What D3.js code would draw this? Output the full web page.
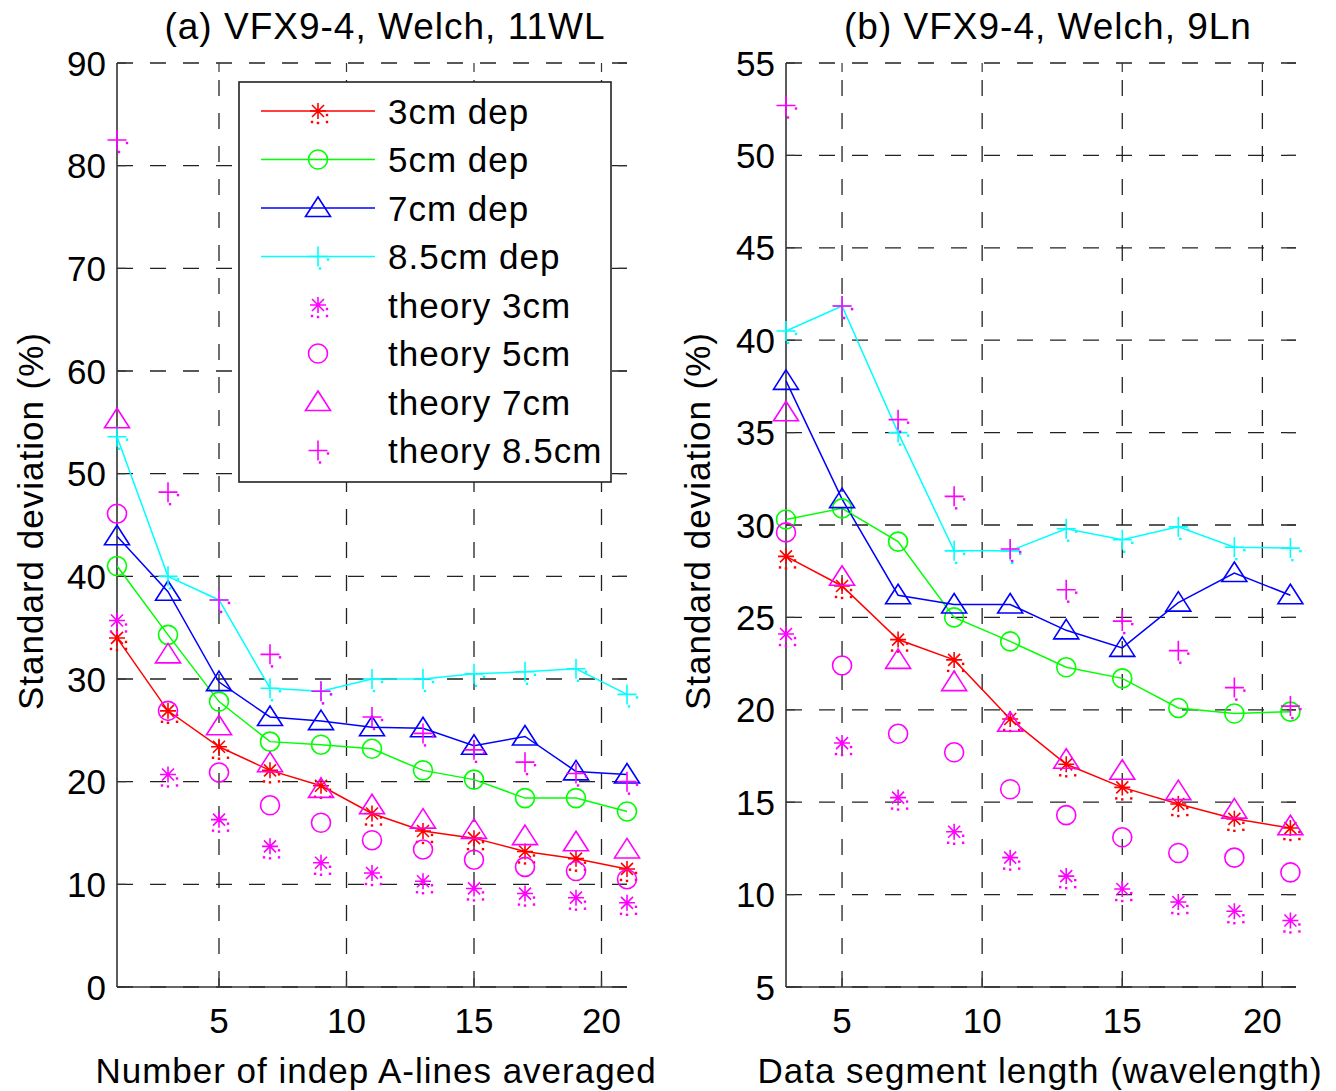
<!DOCTYPE html>
<html>
<head>
<meta charset="utf-8">
<script src="https://d3js.org/d3.v7.min.js"></script>
<style>
  body { margin: 0; background: #fff; }
  svg text { font-family: "Liberation Sans", Arial, sans-serif; fill: #000; }
  .grid line { stroke: #222; stroke-width: 1.3; stroke-dasharray: 16,17; }
  .axisline { stroke: #333; stroke-width: 1.6; }
  .tick { stroke: #333; stroke-width: 1.2; }
</style>
</head>
<body>
<svg id="chart" width="1336" height="1091"></svg>
<script>
// ---- data ----
const xA = [1, 3, 5, 7, 9, 11, 13, 15, 17, 19, 21];
const xB = [3, 5, 7, 9, 11, 13, 15, 17, 19, 21];

// (a) number of A-lines averaged
const aDep3  = [34.0, 26.9, 23.4, 21.1, 19.6, 16.9, 15.2, 14.5, 13.2, 12.5, 11.5];
const aDep5  = [41.0, 34.3, 27.8, 23.9, 23.6, 23.2, 21.1, 20.2, 18.4, 18.4, 17.1];
const aDep7  = [43.9, 38.5, 29.7, 26.3, 25.9, 25.3, 25.2, 23.5, 24.4, 21.0, 20.7];
const aDep85 = [53.6, 40.0, 37.7, 29.1, 28.8, 30.0, 30.0, 30.5, 30.7, 31.0, 28.5];
const aTh3   = [35.7, 20.7, 16.3, 13.7, 12.1, 11.1, 10.3, 9.6, 9.1, 8.7, 8.2];
const aTh5   = [46.1, 26.9, 20.9, 17.7, 16.0, 14.3, 13.4, 12.4, 11.7, 11.3, 10.5];
const aTh7   = [55.3, 32.4, 25.4, 21.8, 19.3, 17.7, 16.3, 15.3, 14.7, 14.1, 13.4];
const aTh85  = [82.5, 48.2, 37.7, 32.4, 28.8, 26.3, 24.7, 23.1, 21.9, 20.8, 20.0];

// (b) data segment length
const bDep3  = [28.3, 26.7, 23.8, 22.7, 19.5, 17.05, 15.8, 14.9, 14.1, 13.6];
const bDep5  = [30.3, 30.9, 29.1, 25.0, 23.7, 22.3, 21.7, 20.1, 19.8, 19.9];
const bDep7  = [37.8, 31.4, 26.2, 25.7, 25.7, 24.3, 23.35, 25.8, 27.4, 26.2];
const bDep85 = [40.5, 41.85, 35.0, 28.6, 28.6, 29.8, 29.2, 29.9, 28.8, 28.75];
const bTh3   = [24.1, 18.2, 15.25, 13.4, 12.0, 11.0, 10.3, 9.6, 9.1, 8.6];
const bTh5   = [29.6, 22.4, 18.7, 17.7, 15.7, 14.3, 13.1, 12.25, 12.0, 11.2];
const bTh7   = [36.1, 27.2, 22.7, 21.5, 19.3, 17.3, 16.7, 15.6, 14.6, 13.7];
const bTh85  = [52.7, 41.85, 35.7, 31.55, 28.7, 26.5, 24.8, 23.2, 21.2, 20.2];

const xTicks = [5, 10, 15, 20];
const yTicksA = [0, 10, 20, 30, 40, 50, 60, 70, 80, 90];
const yTicksB = [5, 10, 15, 20, 25, 30, 35, 40, 45, 50, 55];

const seriesNames = ["3cm dep", "5cm dep", "7cm dep", "8.5cm dep",
                     "theory 3cm", "theory 5cm", "theory 7cm", "theory 8.5cm"];
const seriesColors = ["#ff0000", "#00ff00", "#0000ff", "#00ffff",
                      "#ff00ff", "#ff00ff", "#ff00ff", "#ff00ff"];
const seriesMarkers = ["star", "circle", "triangle", "plus",
                       "star", "circle", "triangle", "plus"];
const seriesLines = [true, true, true, true, false, false, false, false];

const svg = d3.select("#chart");

// draws one MATLAB-like marker (with the little dot artefacts of the source)
function marker(g, type, cx, cy, color) {
  const m = g.append("g").attr("transform", `translate(${cx},${cy})`)
    .attr("fill", "none").attr("stroke", color).attr("stroke-width", 1.6);
  let dots = [];
  if (type === "circle") {
    m.append("circle").attr("r", 9.5);
  } else if (type === "triangle") {
    m.append("path").attr("d", "M0,-11 L12.5,8.5 L-12.5,8.5 Z");
  } else if (type === "plus") {
    m.append("path").attr("d", "M-9.5,0 H9.5 M0,-10 V10");
    dots = [[10, 3], [2, 12]];
  } else if (type === "star") {
    m.append("path").attr("d", "M-8,0 H8 M0,-8 V8 M-6,-6 L6,6 M-6,6 L6,-6");
    dots = [[-6, 11], [0, 12], [9, 11], [9, 4]];
  }
  dots.forEach(d => m.append("rect").attr("x", d[0] - 1.2).attr("y", d[1] - 1.2)
    .attr("width", 2.4).attr("height", 2.4).attr("fill", color).attr("stroke", "none"));
}

function drawPanel(p) {
  const g = svg.append("g");
  const x = d3.scaleLinear().domain(p.xDomain).range(p.xRange);
  const y = d3.scaleLinear().domain(p.yDomain).range([987, 63]);
  const [x0, x1] = p.xRange;

  // grid
  const grid = g.append("g").attr("class", "grid");
  grid.selectAll("line.h").data(p.yTicks).enter().append("line")
    .attr("x1", x0).attr("x2", x1).attr("y1", d => y(d)).attr("y2", d => y(d));
  grid.selectAll("line.v").data(xTicks).enter().append("line")
    .attr("y1", 987).attr("y2", 63).attr("x1", d => x(d)).attr("x2", d => x(d));

  // ticks on four sides, pointing inwards
  const tk = 9;
  p.yTicks.forEach(t => {
    g.append("line").attr("class", "tick").attr("x1", x0).attr("x2", x0 + tk).attr("y1", y(t)).attr("y2", y(t));
    g.append("line").attr("class", "tick").attr("x1", x1).attr("x2", x1 - tk).attr("y1", y(t)).attr("y2", y(t));
  });
  xTicks.forEach(t => {
    g.append("line").attr("class", "tick").attr("y1", 987).attr("y2", 987 - tk).attr("x1", x(t)).attr("x2", x(t));
    g.append("line").attr("class", "tick").attr("y1", 63).attr("y2", 63 + tk).attr("x1", x(t)).attr("x2", x(t));
  });

  // axes
  g.append("line").attr("class", "axisline").attr("x1", x0).attr("x2", x0).attr("y1", 63).attr("y2", 987);
  g.append("line").attr("class", "axisline").attr("x1", x0).attr("x2", x1).attr("y1", 987).attr("y2", 987);

  // tick labels
  g.selectAll("text.yt").data(p.yTicks).enter().append("text")
    .attr("x", x0 - 11).attr("y", d => y(d)).attr("dy", "0.36em")
    .attr("text-anchor", "end").style("font-size", "35px").text(d => d);
  g.selectAll("text.xt").data(xTicks).enter().append("text")
    .attr("x", d => x(d)).attr("y", 1033)
    .attr("text-anchor", "middle").style("font-size", "35px").text(d => d);

  // data
  const line = d3.line().x((d, i) => x(p.xs[i])).y(d => y(d));
  p.series.forEach((vals, k) => {
    if (seriesLines[k]) {
      g.append("path").attr("d", line(vals)).attr("fill", "none")
        .attr("stroke", seriesColors[k]).attr("stroke-width", 1.5);
    }
  });
  p.series.forEach((vals, k) => {
    vals.forEach((v, i) => marker(g, seriesMarkers[k], x(p.xs[i]), y(v), seriesColors[k]));
  });

  // titles and labels
  g.append("text").attr("x", p.titleX).attr("y", 39).attr("text-anchor", "middle")
    .style("font-size", "37px").style("letter-spacing", "1px").text(p.title);
  g.append("text").attr("x", p.xLabelX).attr("y", 1083).attr("text-anchor", "middle")
    .style("font-size", "35px").style("letter-spacing", "1px").text(p.xLabel);
  g.append("text").attr("transform", `translate(${p.yLabelX},521) rotate(-90)`)
    .attr("text-anchor", "middle").attr("dy", "0.36em")
    .style("font-size", "35px").style("letter-spacing", "1px").text("Standard deviation (%)");

  return g;
}

drawPanel({
  xDomain: [1, 21], xRange: [117, 627], yDomain: [0, 90], yTicks: yTicksA,
  xs: xA, series: [aDep3, aDep5, aDep7, aDep85, aTh3, aTh5, aTh7, aTh85],
  title: "(a) VFX9-4, Welch, 11WL", titleX: 385,
  xLabel: "Number of indep A-lines averaged", xLabelX: 376, yLabelX: 30
});

drawPanel({
  xDomain: [3, 21.2], xRange: [786, 1296], yDomain: [5, 55], yTicks: yTicksB,
  xs: xB, series: [bDep3, bDep5, bDep7, bDep85, bTh3, bTh5, bTh7, bTh85],
  title: "(b) VFX9-4, Welch, 9Ln", titleX: 1048,
  xLabel: "Data segment length (wavelength)", xLabelX: 1040, yLabelX: 697
});

// legend (left panel)
const lg = svg.append("g");
lg.append("rect").attr("x", 239).attr("y", 82).attr("width", 372).attr("height", 400)
  .attr("fill", "#fff").attr("stroke", "#222").attr("stroke-width", 1.6);
seriesNames.forEach((name, k) => {
  const cy = 111 + k * 48.5;
  if (seriesLines[k]) {
    lg.append("line").attr("x1", 261).attr("x2", 375).attr("y1", cy).attr("y2", cy)
      .attr("stroke", seriesColors[k]).attr("stroke-width", 1.5);
  }
  marker(lg, seriesMarkers[k], 318, cy, seriesColors[k]);
  lg.append("text").attr("x", 388).attr("y", cy).attr("dy", "0.36em")
    .style("font-size", "35px").style("letter-spacing", "1px").text(name);
});
</script>
</body>
</html>
